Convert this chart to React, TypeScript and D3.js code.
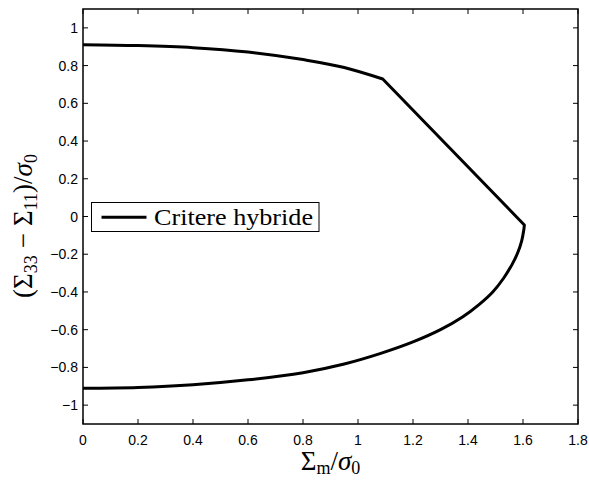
import React from "react";
import * as d3 from "d3";

const upperX = [0, 0.2, 0.4, 0.6, 0.8, 0.95, 1.09];
const upperY = [0.911, 0.906, 0.895, 0.872, 0.832, 0.79, 0.729];
const lineX = [1.09, 1.605];
const lineY = [0.729, -0.045];
const lowerX = [1.605, 1.603, 1.595, 1.58, 1.56, 1.53, 1.49, 1.44, 1.38, 1.3, 1.2, 1.08, 0.95, 0.8, 0.6, 0.4, 0.2, 0];
const lowerY = [-0.045, -0.07, -0.13, -0.195, -0.255, -0.326, -0.4, -0.467, -0.533, -0.6, -0.665, -0.727, -0.782, -0.828, -0.866, -0.892, -0.906, -0.91];
const xTicks = [0, 0.2, 0.4, 0.6, 0.8, 1, 1.2, 1.4, 1.6, 1.8];
const yTicks = [-1, -0.8, -0.6, -0.4, -0.2, 0, 0.2, 0.4, 0.6, 0.8, 1];
const legendLabel = "Critere hybride";

const W = 589, H = 480;
const L = 83, R = 578, T = 9, B = 424;

export default function App() {
  const x = d3.scaleLinear().domain([0, 1.8]).range([L, R]);
  const y = d3.scaleLinear().domain([-1.1, 1.1]).range([B, T]);
  const fmt = (v: number) => {
    const s = d3.format("~g")(Math.abs(v));
    return v < 0 ? "\u2212" + s : s;
  };
  const upperPath = d3.line<[number, number]>().x(d => x(d[0])).y(d => y(d[1])).curve(d3.curveMonotoneX)(upperX.map((v, i) => [v, upperY[i]] as [number, number]));
  const linePath = d3.line<[number, number]>().x(d => x(d[0])).y(d => y(d[1]))(lineX.map((v, i) => [v, lineY[i]] as [number, number]));
  const lowerPath = d3.line<[number, number]>().x(d => x(d[0])).y(d => y(d[1])).curve(d3.curveCatmullRom.alpha(0.5))(lowerX.map((v, i) => [v, lowerY[i]] as [number, number]));
  const tickLen = 5;
  const sans = "'Liberation Sans', Arial, Helvetica, sans-serif";
  const serif = "'Liberation Serif', 'DejaVu Serif', serif";
  return (
    <svg width={W} height={H} style={{ position: "absolute", left: 0, top: 0, background: "#fff" }}>
      <rect x={0} y={0} width={W} height={H} fill="#fff" />
      {xTicks.map(t => (
        <g key={"x" + t}>
          <line x1={x(t)} x2={x(t)} y1={B} y2={B - tickLen} stroke="#000" strokeWidth={1} />
          <line x1={x(t)} x2={x(t)} y1={T} y2={T + tickLen} stroke="#000" strokeWidth={1} />
          <text x={x(t)} y={445} textAnchor="middle" fontFamily={sans} fontSize={14}>{fmt(t)}</text>
        </g>
      ))}
      {yTicks.map(t => (
        <g key={"y" + t}>
          <line x1={L} x2={L + tickLen} y1={y(t)} y2={y(t)} stroke="#000" strokeWidth={1} />
          <line x1={R} x2={R - tickLen} y1={y(t)} y2={y(t)} stroke="#000" strokeWidth={1} />
          <text x={78} y={y(t) + 5} textAnchor="end" fontFamily={sans} fontSize={14}>{fmt(t)}</text>
        </g>
      ))}
      <g fill="none" stroke="#000" strokeWidth={3} strokeLinejoin="round">
        <path d={(upperPath || "") + (linePath || "").replace(/^M/, "L") + (lowerPath || "").replace(/^M/, "L")} />
      </g>
      <rect x={L} y={T} width={R - L} height={B - T} fill="none" stroke="#000" strokeWidth={1.5} />
      <rect x={91.5} y={202.5} width={227.5} height={29} fill="#fff" stroke="#000" strokeWidth={1} />
      <line x1={101.5} x2={146.5} y1={217.3} y2={217.3} stroke="#000" strokeWidth={3} />
      <text x={154} y={225} fontFamily={serif} fontSize={24} textLength={159} lengthAdjust="spacingAndGlyphs">{legendLabel}</text>
      <text x={330.5} y={470} textAnchor="middle" fontFamily={serif} fontSize={27}>
        <tspan>Σ</tspan>
        <tspan fontSize={18} dy={4}>m</tspan>
        <tspan dy={-4}>/</tspan>
        <tspan fontStyle="italic">σ</tspan>
        <tspan fontSize={18} dy={4}>0</tspan>
      </text>
      <text transform={`translate(32,226) rotate(-90)`} textAnchor="middle" fontFamily={serif} fontSize={27}>
        <tspan>(Σ</tspan>
        <tspan fontSize={18} dy={5}>33</tspan>
        <tspan dy={-5} dx={7}>−</tspan>
        <tspan dx={7}>Σ</tspan>
        <tspan fontSize={18} dy={5}>11</tspan>
        <tspan dy={-5}>)/</tspan>
        <tspan fontStyle="italic">σ</tspan>
        <tspan fontSize={18} dy={5}>0</tspan>
      </text>
    </svg>
  );
}
